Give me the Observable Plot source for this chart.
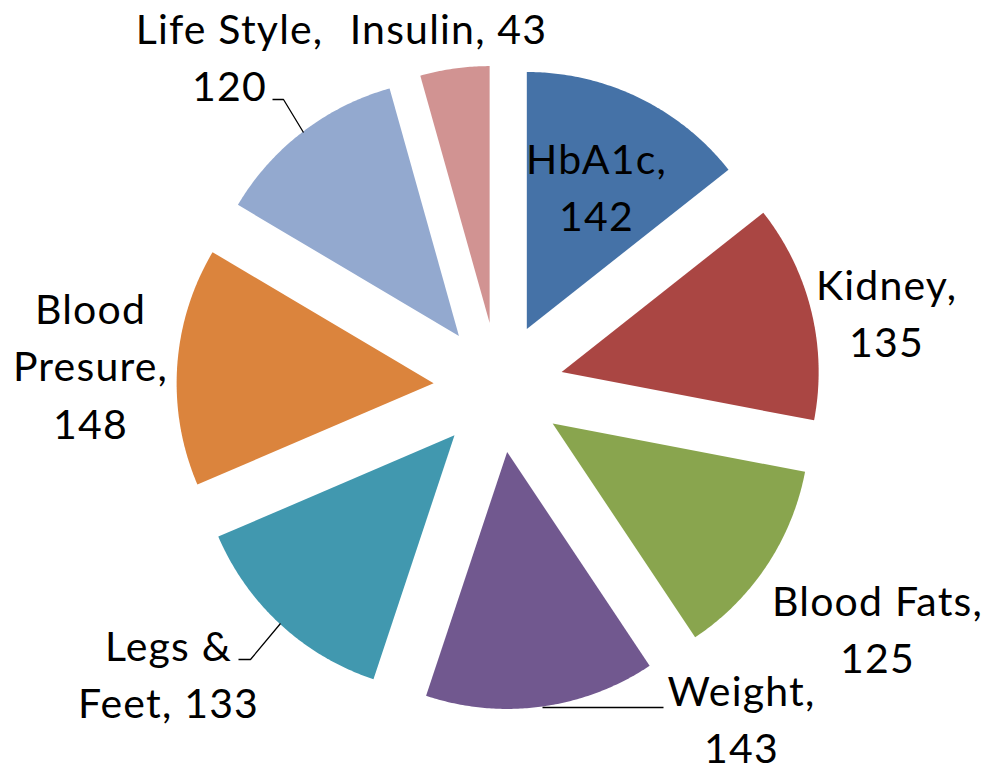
<!DOCTYPE html>
<html>
<head>
<meta charset="utf-8">
<script src="https://cdn.jsdelivr.net/npm/d3@7"></script>
<script src="https://cdn.jsdelivr.net/npm/@observablehq/plot@0.6"></script>
<style>
  html, body { margin: 0; padding: 0; background: #fff; }
  #chart { width: 990px; height: 775px; }
  #chart svg text { letter-spacing: 1.2px; }
</style>
</head>
<body>
<div id="chart"></div>
<script>
// ---- data ----
const categories = ["HbA1c", "Kidney", "Blood Fats", "Weight", "Legs & Feet", "Blood Presure", "Life Style", "Insulin"];
const values = [142, 135, 125, 143, 133, 148, 120, 43];
const colors = ["#4572A7", "#AA4643", "#89A54E", "#71588F", "#4198AF", "#DB843D", "#93A9CF", "#D19392"];

// ---- layout ----
const center = {x: 498, y: 387};
const radius = 257;
const explode = 65;
const fontSize = 41;
const lineGap = 57.5;
// words per line for each label, first-line baseline position
const wordsPerLine = [[1, 1], [1, 1], [2, 1], [1, 1], [2, 2], [1, 1, 1], [2, 1], [2]];
const labelAt = [[596, 173], [886, 299], [877, 615], [741, 705], [168, 660], [90, 323], [229, 43], [448, 43]];
const leaders = [
  {slice: 6, pts: [[272, 99], [283, 99], [303, 132]]},
  {slice: 3, pts: [[542, 707], [663, 707]]},
  {slice: 4, pts: [[238, 659], [250, 659], [280, 623]]}
];

// ---- geometry from data ----
const arcs = d3.pie().sort(null).value(d => d)(values);
const slicePts = [];
arcs.forEach((a, i) => {
  const mid = (a.startAngle + a.endAngle) / 2;
  const ax = center.x + explode * Math.sin(mid);
  const ay = center.y - explode * Math.cos(mid);
  slicePts.push({cat: categories[i], color: colors[i], x: ax, y: ay});
  const n = Math.max(8, Math.ceil((a.endAngle - a.startAngle) / (Math.PI / 360)));
  for (let k = 0; k <= n; ++k) {
    const t = a.startAngle + (a.endAngle - a.startAngle) * k / n;
    slicePts.push({cat: categories[i], color: colors[i], x: ax + radius * Math.sin(t), y: ay - radius * Math.cos(t)});
  }
});

const textRows = [];
categories.forEach((c, i) => {
  const words = `${c}, ${values[i]}`.split(" ");
  let w = 0;
  wordsPerLine[i].forEach((cnt, li) => {
    const line = words.slice(w, w + cnt).join(" ");
    w += cnt;
    textRows.push({text: line, x: labelAt[i][0], y: labelAt[i][1] + li * lineGap - 0.32 * fontSize});
  });
});

const leaderPts = [];
leaders.forEach((l, j) => l.pts.forEach(p => leaderPts.push({id: j, x: p[0], y: p[1]})));

const chart = Plot.plot({
  width: 990,
  height: 775,
  margin: 0,
  x: {domain: [0, 990], range: [0, 990], axis: null},
  y: {domain: [0, 775], range: [0, 775], axis: null},
  color: {type: "identity"},
  style: {background: "#fff", fontFamily: "Lato, 'Open Sans', sans-serif"},
  marks: [
    Plot.line(slicePts, {x: "x", y: "y", z: "cat", fill: "color", stroke: "none", curve: "linear-closed"}),
    Plot.line(leaderPts, {x: "x", y: "y", z: "id", stroke: "#000", strokeWidth: 1.3, strokeLinecap: "butt", strokeLinejoin: "miter"}),
    Plot.text(textRows, {x: "x", y: "y", text: "text", fontSize: fontSize, fill: "#000", textAnchor: "middle", lineAnchor: "middle"})
  ]
});
document.getElementById("chart").appendChild(chart);
</script>
</body>
</html>
